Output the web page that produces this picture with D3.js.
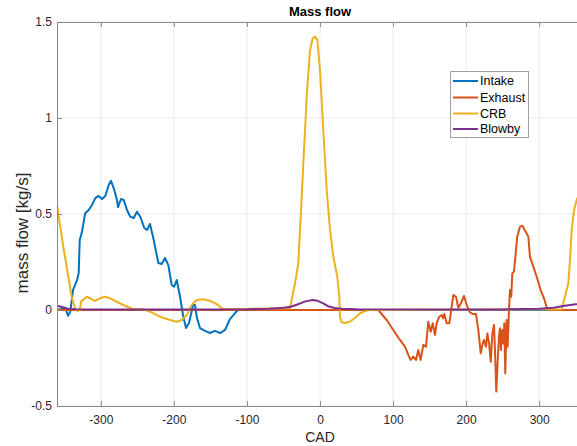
<!DOCTYPE html>
<html>
<head>
<meta charset="utf-8">
<script src="https://cdn.jsdelivr.net/npm/d3@7"></script>
<style>
  html, body { margin: 0; padding: 0; background: #fff; }
  svg { display: block; font-family: "Liberation Sans", Arial, Helvetica, sans-serif; }
</style>
</head>
<body>
<svg id="chart" width="577" height="446"></svg>
<script>
// ---- data (CAD, kg/s) ----
const seriesNames = ["Intake", "Exhaust", "CRB", "Blowby"];
const seriesColors = ["#0072BD", "#D95319", "#EDB120", "#7E2F8E"];

const intakeCAD = [-360,-348.6,-344.9,-341.8,-338.1,-332.6,-330.3,-328.9,-325.8,-321.3,-316.6,-312.1,-307.6,-302.9,-298.4,-293.9,-289.2,-286.1,-282.4,-277.9,-276.5,-272.4,-268.7,-264.2,-259.7,-255.0,-250.5,-246.0,-240.5,-236.8,-232.7,-227.6,-225.8,-221.3,-216.7,-212.2,-207.6,-203.0,-199.8,-196.1,-191.6,-187.1,-183.4,-179.3,-173.8,-171.1,-168.4,-164.3,-157.4,-150.6,-143.7,-136.9,-130.0,-123.2,-116.3,-112.2,360];
const intakeFlow = [0,0.009,-0.03,-0.009,0.104,0.156,0.193,0.365,0.408,0.505,0.521,0.547,0.583,0.594,0.578,0.594,0.651,0.673,0.635,0.573,0.536,0.578,0.573,0.521,0.486,0.479,0.512,0.486,0.427,0.417,0.448,0.365,0.330,0.245,0.240,0.271,0.234,0.130,0.121,0.156,0.069,-0.035,-0.094,-0.068,0.026,0.026,-0.042,-0.094,-0.109,-0.12,-0.109,-0.12,-0.104,-0.047,-0.016,0,0];

const exhaustCAD = [-360,79.8,91.3,100.3,109.5,116.3,120.9,124.1,127.7,131.4,134.5,137.8,141.4,145.1,148.2,151.5,154.3,157.4,159.7,163.3,166.6,168.7,170.2,173.4,177.0,179.3,182.5,186.2,189.3,193.0,197.1,200.8,204.4,209.0,213.5,216.7,220.0,222.7,224.5,227.2,229.1,231.4,233.7,235.9,238.2,239.5,241.3,243.3,245.0,246.4,247.7,249.5,250.9,252.3,253.6,255.5,256.9,258.7,260.1,261.8,263.2,265.5,267.9,270.0,273.7,277.4,279.6,282.9,285.2,287.4,292.0,296.6,302.0,306.6,310.3,311.6,360];
const exhaustFlow = [0,0,-0.052,-0.104,-0.156,-0.191,-0.234,-0.26,-0.243,-0.26,-0.208,-0.26,-0.182,-0.191,-0.061,-0.113,-0.069,-0.13,-0.069,-0.035,-0.026,-0.043,-0.021,-0.069,-0.069,-0.009,0.078,0.069,0.012,0.035,0.073,0.026,-0.009,-0.021,-0.021,-0.104,-0.226,-0.174,-0.156,-0.191,-0.122,-0.174,-0.269,-0.122,-0.078,-0.208,-0.425,-0.26,-0.139,-0.095,-0.208,-0.104,-0.174,-0.069,-0.33,-0.052,-0.191,0,0.104,0.069,0.191,0.2,0.295,0.382,0.434,0.438,0.42,0.399,0.382,0.278,0.226,0.173,0.104,0.061,0.014,0,0];

const crbCAD = [-360,-351.4,-344.5,-339.9,-335.3,-332.2,-328.5,-327.1,-319.3,-312.5,-308.0,-301.1,-294.3,-287.4,-278.3,-269.2,-255.5,-241.9,-232.7,-219.0,-205.3,-196.1,-189.3,-182.5,-175.6,-168.8,-159.7,-150.6,-141.4,-134.5,-130.0,-41.1,-34.2,-29.7,-26.4,-22.8,-18.2,-13.7,-10.0,-6.8,-3.7,0,4.5,9.2,13.7,18.2,23.7,26.4,27.4,29.7,34,41,48,55,62,68,330.8,335.3,339.9,342.2,344.5,347.7,351.8,356,360];
const crbFlow = [0.547,0.33,0.173,0.069,0.009,-0.005,0,0.043,0.069,0.056,0.048,0.061,0.069,0.061,0.043,0.026,0.004,0.004,-0.009,-0.035,-0.052,-0.061,-0.052,-0.026,0.026,0.052,0.056,0.048,0.031,0.009,0.004,0.009,0.139,0.243,0.486,0.764,1.111,1.354,1.415,1.424,1.406,1.25,0.9375,0.625,0.417,0.278,0.173,0.069,-0.035,-0.065,-0.068,-0.061,-0.04,-0.017,-0.005,0,0.004,0.069,0.139,0.26,0.417,0.52,0.58,0.6,0.6];

const blowbyCAD = [-360,-352,-345,-335,-300,-200,-100,-70,-50,-40,-30,-20,-10,-3,5,12,20,30,50,150,250,300,320,335,350,360];
const blowbyFlow = [0.022,0.014,0.007,0.004,0.003,0.003,0.004,0.007,0.012,0.017,0.03,0.045,0.052,0.048,0.033,0.018,0.01,0.006,0.004,0.003,0.003,0.006,0.012,0.022,0.03,0.032];

const xTicks = [-300, -200, -100, 0, 100, 200, 300];
const xTickLabels = ["-300", "-200", "-100", "0", "100", "200", "300"];
const yTicks = [-0.5, 0, 0.5, 1, 1.5];
const yTickLabels = ["-0.5", "0", "0.5", "1", "1.5"];

// ---- layout ----
const svg = d3.select("#chart");
const pL = 57, pR = 583, pT = 22, pB = 406;
const x = d3.scaleLinear().domain([-360, 360]).range([pL, pR]);
const y = d3.scaleLinear().domain([-0.5, 1.5]).range([pB, pT]);

const axisColor = "#8a8a8a";
const gridColor = "#ebebeb";

// grid
const grid = svg.append("g");
grid.selectAll("line.gx").data(xTicks).join("line")
  .attr("x1", d => x(d)).attr("x2", d => x(d)).attr("y1", pT).attr("y2", pB)
  .attr("stroke", gridColor).attr("stroke-width", 1);
grid.selectAll("line.gy").data(yTicks).join("line")
  .attr("y1", d => y(d)).attr("y2", d => y(d)).attr("x1", pL).attr("x2", pR)
  .attr("stroke", gridColor).attr("stroke-width", 1);

// clip
svg.append("clipPath").attr("id", "clip").append("rect")
  .attr("x", pL).attr("y", pT).attr("width", pR - pL).attr("height", pB - pT);

const series = [
  { name: seriesNames[0], color: seriesColors[0], xs: intakeCAD, ys: intakeFlow },
  { name: seriesNames[1], color: seriesColors[1], xs: exhaustCAD, ys: exhaustFlow },
  { name: seriesNames[2], color: seriesColors[2], xs: crbCAD, ys: crbFlow },
  { name: seriesNames[3], color: seriesColors[3], xs: blowbyCAD, ys: blowbyFlow }
];

const line = d3.line().x(d => x(d[0])).y(d => y(d[1]));
const plot = svg.append("g").attr("clip-path", "url(#clip)");
series.forEach(s => {
  plot.append("path")
    .datum(s.xs.map((v, i) => [v, s.ys[i]]))
    .attr("fill", "none")
    .attr("stroke", s.color)
    .attr("stroke-width", 2)
    .attr("stroke-linejoin", "round")
    .attr("d", line);
});

// axes
function styleAxis(g) {
  g.select(".domain").attr("stroke", axisColor);
  g.selectAll(".tick line").attr("stroke", axisColor);
  g.selectAll(".tick text").attr("fill", "#262626").attr("font-size", 12)
    .attr("font-family", "'Liberation Sans', Arial, Helvetica, sans-serif");
}
const xAxis = svg.append("g").attr("transform", `translate(0,${pB})`)
  .call(d3.axisBottom(x).tickValues(xTicks).tickFormat((d, i) => xTickLabels[i])
    .tickSizeInner(-5).tickSizeOuter(0).tickPadding(9));
styleAxis(xAxis);
const xAxisTop = svg.append("g").attr("transform", `translate(0,${pT})`)
  .call(d3.axisTop(x).tickValues(xTicks).tickFormat("").tickSizeInner(-5).tickSizeOuter(0));
styleAxis(xAxisTop);
const yAxis = svg.append("g").attr("transform", `translate(${pL},0)`)
  .call(d3.axisLeft(y).tickValues(yTicks).tickFormat((d, i) => yTickLabels[i])
    .tickSizeInner(-5).tickSizeOuter(0).tickPadding(5));
styleAxis(yAxis);

// titles
svg.append("text").attr("x", (pL + pR) / 2).attr("y", 16)
  .attr("text-anchor", "middle").attr("font-weight", "bold").attr("font-size", 13)
  .attr("fill", "#000").text("Mass flow");
svg.append("text").attr("x", (pL + pR) / 2).attr("y", 442)
  .attr("text-anchor", "middle").attr("font-size", 14).attr("fill", "#262626").text("CAD");
svg.append("text").attr("transform", `translate(28,233) rotate(-90)`)
  .attr("text-anchor", "middle").attr("font-size", 17).attr("fill", "#262626").text("mass flow [kg/s]");

// legend
const lg = svg.append("g");
lg.append("rect").attr("x", 450.5).attr("y", 71.5).attr("width", 78).attr("height", 66)
  .attr("fill", "#fff").attr("stroke", "#a0a0a0").attr("stroke-width", 1);
const legendY = [81, 97.5, 113.5, 129];
series.forEach((s, i) => {
  lg.append("line").attr("x1", 453).attr("x2", 478).attr("y1", legendY[i]).attr("y2", legendY[i])
    .attr("stroke", s.color).attr("stroke-width", 2);
  lg.append("text").attr("x", 480).attr("y", legendY[i]).attr("dy", "0.35em")
    .attr("font-size", 12.5).attr("fill", "#000").text(s.name);
});
</script>
</body>
</html>
